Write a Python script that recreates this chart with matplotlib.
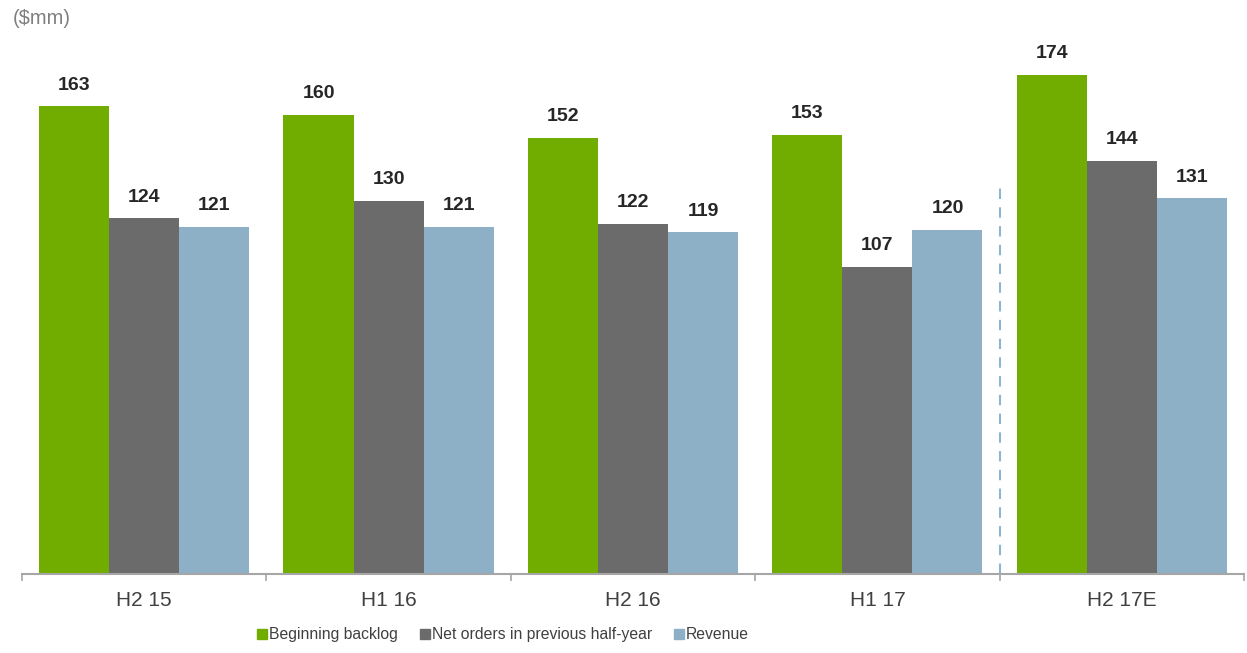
import numpy as np
import matplotlib.pyplot as plt
from matplotlib.lines import Line2D

plt.rcParams['font.family'] = ['Liberation Sans', 'DejaVu Sans']

# Dados
periodos = ["H2 15", "H1 16", "H2 16", "H1 17", "H2 17E"]
backlog = [163, 160, 152, 153, 174]
pedidos = [124, 130, 122, 107, 144]
receita = [121, 121, 119, 120, 131]

series = ["Beginning backlog", "Net orders in previous half-year", "Revenue"]
cores = ["#70ad00", "#6b6b6b", "#8eb0c7"]

fig = plt.figure(figsize=(12.47, 6.53), dpi=100)
ax = fig.add_axes([0.0176, 0.121, 0.98, 0.835])

x = np.arange(len(periodos))
largura = 0.2866
for i, (valores, cor) in enumerate(zip([backlog, pedidos, receita], cores)):
    pos = x + (i - 1) * largura
    barras = ax.bar(pos, valores, width=largura, color=cor, label=series[i])
    for b, v in zip(barras, valores):
        ax.annotate(str(v), (b.get_x() + b.get_width() / 2, v),
                    xytext=(0, 9), textcoords="offset points",
                    ha="center", va="bottom", fontsize=14,
                    fontweight="bold", color="#262626")

# Linha tracejada separando a estimativa
ax.plot([3.5, 3.5], [0, 135.5], color="#8eb4d0", lw=1.5,
        linestyle=(0, (5, 4)))

ax.set_xlim(-0.5, 4.5)
ax.set_ylim(0, 190)
ax.set_xticks(x)
ax.set_xticklabels(periodos, fontsize=15, color="#404040")
ax.tick_params(axis="x", which="major", length=0, pad=12)
ax.set_xticks(np.arange(-0.5, 5, 1), minor=True)
ax.tick_params(axis="x", which="minor", length=5, color="#a6a6a6", width=1.2)
ax.set_yticks([])
for lado in ["left", "top", "right"]:
    ax.spines[lado].set_visible(False)
ax.spines["bottom"].set_color("#a6a6a6")
ax.spines["bottom"].set_linewidth(1.5)

fig.text(0.01, 0.972, "($mm)", fontsize=14.5, color="#7f7f7f", ha="left", va="center")

handles = [Line2D([], [], marker="s", linestyle="", markersize=7, color=c) for c in cores]
fig.legend(handles, series, loc="center", bbox_to_anchor=(0.403, 0.028), ncol=3,
           frameon=False, fontsize=11.3, handletextpad=0.05, columnspacing=1.3,
           handlelength=0.8, labelcolor="#404040")

plt.savefig("out.png", dpi=100)
